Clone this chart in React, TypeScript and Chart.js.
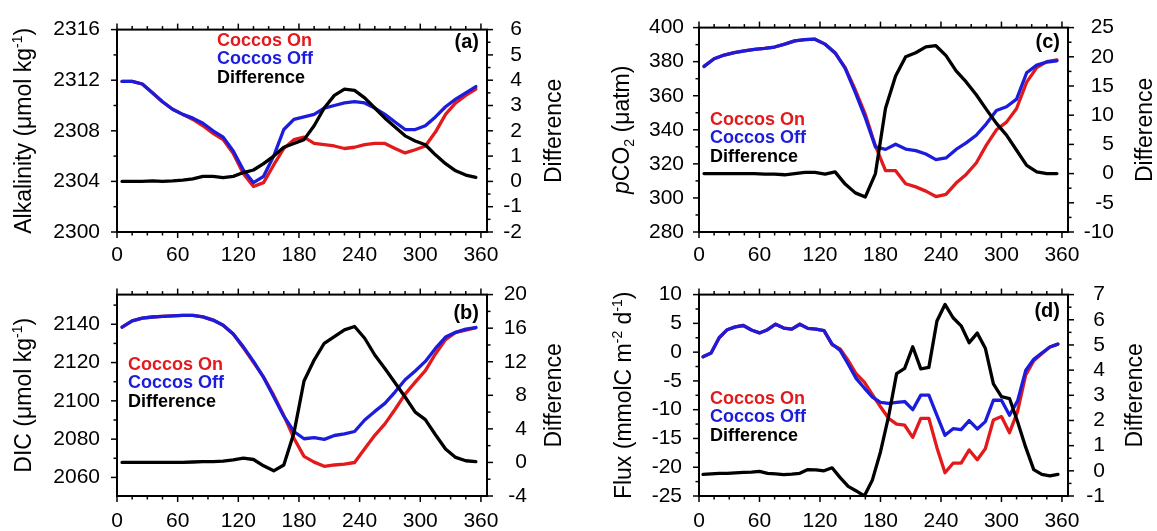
import React, { useEffect, useRef } from "react";
import { Chart, registerables } from "chart.js";

Chart.register(...registerables);

const FONT = "'Liberation Sans', Arial, Helvetica, sans-serif";
const RED = "#e31a1c";
const BLUE = "#1c1cdc";
const BLACK = "#000000";

// ---------- data ----------
const days10 = [5, 15, 25, 35, 45, 55, 65, 75, 85, 95, 105, 115, 125, 135, 145, 155, 165, 175, 185, 195, 205, 215, 225, 235, 245, 255, 265, 275, 285, 295, 305, 315, 325, 335, 345, 355];
const daysFlux = [4, 12, 20, 28, 36, 44, 52, 60, 68, 76, 84, 92, 100, 108, 116, 124, 132, 140, 148, 156, 164, 172, 180, 188, 196, 204, 212, 220, 228, 236, 244, 252, 260, 268, 276, 284, 292, 300, 308, 316, 324, 332, 340, 348, 356];

const xTickVals = [0, 60, 120, 180, 240, 300, 360];

const alkOn = [2311.9, 2311.9, 2311.7, 2311.0, 2310.3, 2309.7, 2309.3, 2308.9, 2308.4, 2307.8, 2307.3, 2306.2, 2304.6, 2303.6, 2303.9, 2305.3, 2306.6, 2307.3, 2307.5, 2307.0, 2306.9, 2306.8, 2306.6, 2306.7, 2306.9, 2307.0, 2307.0, 2306.6, 2306.25, 2306.5, 2306.8, 2307.9, 2309.3, 2310.2, 2310.8, 2311.3];
const alkOff = [2311.9, 2311.9, 2311.7, 2311.0, 2310.3, 2309.7, 2309.3, 2309.0, 2308.6, 2308.0, 2307.5, 2306.4, 2304.9, 2303.9, 2304.4, 2306.0, 2308.1, 2308.9, 2309.1, 2309.3, 2309.8, 2310.0, 2310.2, 2310.3, 2310.2, 2309.8, 2309.3, 2308.7, 2308.1, 2308.1, 2308.4, 2309.1, 2309.9, 2310.5, 2311.0, 2311.5];
const alkDiff = [0, 0, 0, 0.02, 0, 0.02, 0.05, 0.1, 0.2, 0.2, 0.15, 0.2, 0.35, 0.45, 0.7, 1.0, 1.35, 1.5, 1.65, 2.2, 2.9, 3.4, 3.65, 3.6, 3.3, 2.9, 2.5, 2.15, 1.8, 1.6, 1.45, 1.05, 0.7, 0.42, 0.25, 0.16];
const alkTicks = [2300, 2304, 2308, 2312, 2316];
const alkDiffTicks = [-2, -1, 0, 1, 2, 3, 4, 5, 6];

const dicOn = [2138.5, 2141.8, 2143.2, 2143.8, 2144.1, 2144.4, 2144.6, 2144.6, 2143.9, 2142.2, 2139.5, 2134.9, 2127.7, 2120.2, 2112.4, 2103.0, 2092.3, 2080.5, 2071.0, 2068.0, 2065.8, 2066.5, 2067.0, 2067.8, 2075.0, 2082.0, 2088.0, 2095.5, 2103.5, 2109.8, 2115.8, 2124.5, 2132.0, 2135.8, 2137.0, 2138.3];
const dicOff = [2138.5, 2141.8, 2143.2, 2143.8, 2144.1, 2144.4, 2144.6, 2144.6, 2143.9, 2142.2, 2139.5, 2134.9, 2128.2, 2120.6, 2112.2, 2102.1, 2092.0, 2084.0, 2080.2, 2080.8, 2079.9, 2081.9, 2082.7, 2084.0, 2090.0, 2094.5, 2098.7, 2104.6, 2111.0, 2115.6, 2120.6, 2127.4, 2133.3, 2135.8, 2137.5, 2138.3];
const dicDiff = [0, 0, 0, 0, 0, 0, 0, 0.05, 0.1, 0.1, 0.15, 0.3, 0.5, 0.35, -0.4, -1.0, -0.3, 3.5, 9.7, 12.2, 14.2, 15.0, 15.8, 16.2, 14.8, 12.8, 11.2, 9.5, 7.8, 6.0, 5.1, 3.3, 1.6, 0.6, 0.2, 0.1];
const dicTicks = [2060, 2080, 2100, 2120, 2140];
const dicDiffTicks = [-4, 0, 4, 8, 12, 16, 20];

const co2On = [377.2, 381.7, 383.9, 385.3, 386.4, 387.2, 387.8, 388.6, 390.3, 392.2, 392.9, 393.2, 390.3, 385.0, 376.5, 363.5, 349.0, 330.5, 316.0, 316.0, 308.3, 306.5, 304.0, 300.8, 302.1, 308.7, 313.8, 320.5, 331.0, 340.0, 344.5, 352.5, 368.0, 376.5, 380.0, 381.0];
const co2Off = [377.2, 381.7, 383.9, 385.3, 386.4, 387.2, 387.8, 388.6, 390.3, 392.2, 392.9, 393.2, 390.3, 385.3, 376.0, 362.0, 347.0, 330.0, 328.5, 331.5, 328.7, 327.8, 325.8, 322.5, 323.5, 328.5, 332.3, 336.8, 343.5, 351.3, 353.5, 358.0, 373.5, 378.0, 379.8, 380.5];
const co2Diff = [0, 0, 0, 0, 0, 0, -0.1, -0.1, -0.2, 0, 0.2, 0.2, -0.1, 0.3, -1.8, -3.3, -4.0, 0, 11.2, 16.7, 20.0, 20.7, 21.7, 21.9, 20.2, 17.6, 15.7, 13.5, 11.0, 8.6, 6.6, 4.0, 1.4, 0.3, 0, 0];
const co2Ticks = [280, 300, 320, 340, 360, 380, 400];
const co2DiffTicks = [-10, -5, 0, 5, 10, 15, 20, 25];

const fluxOn = [-0.82, -0.15, 2.5, 3.9, 4.4, 4.63, 3.85, 3.34, 3.9, 4.85, 4.18, 4.0, 4.85, 4.13, 4.0, 3.74, 1.3, 0.57, -1.45, -3.8, -5.2, -7.4, -9.5, -11.5, -12.5, -12.7, -14.8, -11.5, -11.5, -16.6, -20.95, -19.3, -19.3, -17.0, -18.7, -16.8, -11.8, -11.2, -14.0, -10.3, -4.0, -1.5, -0.3, 0.9, 1.4];
const fluxOff = [-0.82, -0.15, 2.5, 3.9, 4.4, 4.63, 3.85, 3.34, 3.9, 4.85, 4.18, 4.0, 4.85, 4.13, 4.0, 3.74, 1.41, 0.3, -2.1, -4.6, -6.24, -7.8, -8.74, -8.9, -8.74, -8.58, -10.0, -7.47, -7.47, -10.97, -14.46, -13.3, -13.46, -11.9, -13.35, -12.07, -8.36, -8.36, -10.97, -8.47, -3.2, -1.25, -0.15, 0.9, 1.4];
const fluxDiff = [-0.14, -0.12, -0.1, -0.1, -0.08, -0.06, -0.05, -0.02, -0.1, -0.12, -0.15, -0.13, -0.1, 0.05, 0.04, 0.0, 0.12, -0.27, -0.62, -0.8, -1.0, -0.36, 0.75, 2.15, 3.86, 4.07, 4.93, 4.05, 4.11, 5.95, 6.61, 6.08, 5.76, 5.09, 5.47, 4.87, 3.45, 2.95, 2.87, 1.95, 0.94, 0.05, -0.14, -0.2, -0.14];
const fluxTicks = [-25, -20, -15, -10, -5, 0, 5, 10];
const fluxDiffTicks = [-1, 0, 1, 2, 3, 4, 5, 6, 7];

const seriesNames = ["Coccos On", "Coccos Off", "Difference"];

// ---------- layout / style ----------
type Seg = { t: string; s?: "i" | "sup" | "sub" };
type Axis = { min: number; max: number; ticks: number[]; minor: number; pad: number };
type PanelCfg = {
  key: string;
  left: number; top: number; w: number; h: number;
  area: { L: number; R: number; T: number; B: number };
  days: number[]; on: number[]; off: number[]; diff: number[];
  yL: Axis; yR: Axis;
  xPad: number;
  title: Seg[]; titleX: number; rTitleX: number;
  legX: number; legY: number;
  label: string; labelX: number; labelY: number;
};

const X_MIN = 0;
const X_MAX = 366;
const X_MINOR = 15;
const MAJOR_LEN = 6;
const MINOR_LEN = 3.5;

// for the right axis, "pad" is the x of the labels' right edge (right-justified)
const panels: PanelCfg[] = [
  {
    key: "a", left: 0, top: 0, w: 578, h: 265,
    area: { L: 117, R: 487, T: 21, B: 232 },
    days: days10, on: alkOn, off: alkOff, diff: alkDiff,
    yL: { min: 2300, max: 2316, ticks: alkTicks, minor: 2, pad: 17 },
    yR: { min: -2, max: 6, ticks: alkDiffTicks, minor: 0.5, pad: 522 },
    xPad: 11,
    title: [{ t: "Alkalinity (\u03bcmol kg" }, { t: "-1", s: "sup" }, { t: ")" }],
    titleX: 23, rTitleX: 553,
    legX: 217, legY: 41,
    label: "(a)", labelX: 479, labelY: 42.5,
  },
  {
    key: "b", left: 0, top: 265, w: 578, h: 266,
    area: { L: 117, R: 487, T: 21, B: 231 },
    days: days10, on: dicOn, off: dicOff, diff: dicDiff,
    yL: { min: 2050.3, max: 2155.5, ticks: dicTicks, minor: 10, pad: 17 },
    yR: { min: -4, max: 20, ticks: dicDiffTicks, minor: 2, pad: 527 },
    xPad: 13,
    title: [{ t: "DIC (\u03bcmol kg" }, { t: "-1", s: "sup" }, { t: ")" }],
    titleX: 23, rTitleX: 553,
    legX: 128, legY: 100,
    label: "(b)", labelX: 479, labelY: 48,
  },
  {
    key: "c", left: 578, top: 0, w: 579, h: 265,
    area: { L: 121, R: 490, T: 21, B: 232 },
    days: days10, on: co2On, off: co2Off, diff: co2Diff,
    yL: { min: 280, max: 400, ticks: co2Ticks, minor: 10, pad: 15 },
    yR: { min: -10, max: 25, ticks: co2DiffTicks, minor: 2.5, pad: 536 },
    xPad: 11,
    title: [{ t: "p", s: "i" }, { t: "CO" }, { t: "2", s: "sub" }, { t: " (\u03bcatm)" }],
    titleX: 43, rTitleX: 566,
    legX: 132, legY: 120,
    label: "(c)", labelX: 482, labelY: 42.5,
  },
  {
    key: "d", left: 578, top: 265, w: 579, h: 266,
    area: { L: 121, R: 490, T: 21, B: 231 },
    days: daysFlux, on: fluxOn, off: fluxOff, diff: fluxDiff,
    yL: { min: -25, max: 10, ticks: fluxTicks, minor: 2.5, pad: 17 },
    yR: { min: -1, max: 7, ticks: fluxDiffTicks, minor: 0.5, pad: 527 },
    xPad: 13,
    title: [{ t: "Flux (mmolC m" }, { t: "-2", s: "sup" }, { t: " d" }, { t: "-1", s: "sup" }, { t: ")" }],
    titleX: 45, rTitleX: 556,
    legX: 132, legY: 134,
    label: "(d)", labelX: 482, labelY: 46,
  },
];

const TICK_FONT = 21;
const TITLE_FONT = 23;
const LEGEND_FONT = 18;
const LABEL_FONT = 20;
const LEG_SPACING = 18.5;
const LINE_W = 3.3;

function drawRich(ctx: CanvasRenderingContext2D, segs: Seg[], cx: number, cy: number, size: number) {
  ctx.save();
  ctx.translate(cx, cy);
  ctx.rotate(-Math.PI / 2);
  const fontFor = (s: Seg) => {
    const small = s.s === "sup" || s.s === "sub";
    const sz = small ? Math.round(size * 0.62) : size;
    return `${s.s === "i" ? "italic " : ""}${sz}px ${FONT}`;
  };
  let total = 0;
  const widths = segs.map((sg) => {
    ctx.font = fontFor(sg);
    const w = ctx.measureText(sg.t).width;
    total += w;
    return w;
  });
  let x = -total / 2;
  ctx.textAlign = "left";
  ctx.textBaseline = "alphabetic";
  ctx.fillStyle = "#000";
  const base = size * 0.36;
  segs.forEach((sg, i) => {
    ctx.font = fontFor(sg);
    const dy = sg.s === "sup" ? -size * 0.42 : sg.s === "sub" ? size * 0.22 : 0;
    ctx.fillText(sg.t, x, base + dy);
    x += widths[i];
  });
  ctx.restore();
}

function makeDecor(p: PanelCfg) {
  return {
    id: "decor" + p.key,
    afterDatasetsDraw(chart: any) {
      const { ctx, chartArea: a, scales } = chart;
      const sx = scales.x, sl = scales.yL, sr = scales.yR;
      ctx.save();
      ctx.strokeStyle = "#000";
      ctx.lineWidth = 1.5;
      const seg = (x1: number, y1: number, x2: number, y2: number) => {
        ctx.beginPath();
        ctx.moveTo(x1, y1);
        ctx.lineTo(x2, y2);
        ctx.stroke();
      };
      const each = (min: number, max: number, step: number, majors: number[], fn: (v: number, len: number) => void) => {
        const n0 = Math.ceil(min / step - 1e-6);
        const n1 = Math.floor(max / step + 1e-6);
        for (let n = n0; n <= n1; n++) {
          const v = n * step;
          const major = majors.some((m) => Math.abs(m - v) < step * 1e-3);
          fn(v, major ? MAJOR_LEN : MINOR_LEN);
        }
      };
      each(X_MIN, X_MAX, X_MINOR, xTickVals, (v, len) => {
        const px = sx.getPixelForValue(v);
        seg(px, a.bottom, px, a.bottom + len);
        seg(px, a.top, px, a.top - len);
      });
      each(p.yL.min, p.yL.max, p.yL.minor, p.yL.ticks, (v, len) => {
        const py = sl.getPixelForValue(v);
        seg(a.left, py, a.left - len, py);
      });
      each(p.yR.min, p.yR.max, p.yR.minor, p.yR.ticks, (v, len) => {
        const py = sr.getPixelForValue(v);
        seg(a.right, py, a.right + len, py);
      });
      ctx.lineWidth = 2;
      ctx.strokeRect(a.left, a.top, a.right - a.left, a.bottom - a.top);

      // right-axis tick labels (right-justified)
      ctx.font = `${TICK_FONT}px ${FONT}`;
      ctx.textAlign = "right";
      ctx.textBaseline = "middle";
      ctx.fillStyle = "#000";
      p.yR.ticks.forEach((v) => {
        ctx.fillText(String(v), p.yR.pad, sr.getPixelForValue(v));
      });

      const cy = (a.top + a.bottom) / 2;
      drawRich(ctx, p.title, p.titleX, cy, TITLE_FONT);
      drawRich(ctx, [{ t: "Difference" }], p.rTitleX, cy, TITLE_FONT);

      ctx.font = `bold ${LEGEND_FONT}px ${FONT}`;
      ctx.textAlign = "left";
      ctx.textBaseline = "middle";
      const cols = [RED, BLUE, BLACK];
      seriesNames.forEach((n, i) => {
        ctx.fillStyle = cols[i];
        ctx.fillText(n, p.legX, p.legY + i * LEG_SPACING);
      });

      ctx.font = `bold ${LABEL_FONT}px ${FONT}`;
      ctx.textAlign = "right";
      ctx.fillStyle = "#000";
      ctx.fillText(p.label, p.labelX, p.labelY);
      ctx.restore();
    },
  };
}

function yAxis(ax: Axis, position: "left" | "right", width: number) {
  return {
    type: "linear" as const,
    position,
    min: ax.min,
    max: ax.max,
    grid: { display: false, drawTicks: false },
    border: { display: false },
    afterBuildTicks: (s: any) => {
      s.ticks = ax.ticks.map((v) => ({ value: v }));
    },
    afterFit: (s: any) => {
      s.width = width;
    },
    ticks: {
      display: position === "left",
      color: "#000",
      font: { family: FONT, size: TICK_FONT },
      padding: position === "left" ? ax.pad : 0,
      autoSkip: false,
      callback: (v: any) => String(v),
    },
  };
}

function buildConfig(p: PanelCfg): any {
  const pts = (vals: number[]) => p.days.map((d, i) => ({ x: d, y: vals[i] }));
  const line = (label: string, vals: number[], color: string, axis: string, order: number) => ({
    label,
    data: pts(vals),
    borderColor: color,
    backgroundColor: color,
    borderWidth: LINE_W,
    pointRadius: 0,
    tension: 0,
    borderJoinStyle: "round",
    borderCapStyle: "round",
    yAxisID: axis,
    order,
  });
  return {
    type: "line",
    data: {
      datasets: [
        line(seriesNames[0], p.on, RED, "yL", 3),
        line(seriesNames[1], p.off, BLUE, "yL", 2),
        line(seriesNames[2], p.diff, BLACK, "yR", 1),
      ],
    },
    options: {
      responsive: false,
      animation: false,
      devicePixelRatio: 1,
      layout: { padding: { top: p.area.T, left: 0, right: 0, bottom: 0 } },
      plugins: { legend: { display: false }, tooltip: { enabled: false }, title: { display: false } },
      scales: {
        x: {
          type: "linear",
          position: "bottom",
          min: X_MIN,
          max: X_MAX,
          grid: { display: false, drawTicks: false },
          border: { display: false },
          afterBuildTicks: (s: any) => {
            s.ticks = xTickVals.map((v) => ({ value: v }));
          },
          afterFit: (s: any) => {
            s.height = p.h - p.area.B;
          },
          ticks: {
            color: "#000",
            font: { family: FONT, size: TICK_FONT },
            padding: p.xPad,
            maxRotation: 0,
            autoSkip: false,
            callback: (v: any) => String(v),
          },
        },
        yL: yAxis(p.yL, "left", p.area.L),
        yR: yAxis(p.yR, "right", p.w - p.area.R),
      },
    },
    plugins: [makeDecor(p)],
  };
}

function Panel({ cfg }: { cfg: PanelCfg }) {
  const ref = useRef<HTMLCanvasElement>(null);
  useEffect(() => {
    if (!ref.current) return;
    const chart = new Chart(ref.current, buildConfig(cfg));
    return () => chart.destroy();
  }, [cfg]);
  return (
    <canvas
      ref={ref}
      width={cfg.w}
      height={cfg.h}
      style={{ position: "absolute", left: cfg.left, top: cfg.top, width: cfg.w, height: cfg.h }}
    />
  );
}

export default function App() {
  return (
    <div style={{ position: "absolute", left: 0, top: 0, width: 1157, height: 531, background: "#fff", overflow: "hidden" }}>
      {panels.map((p) => (
        <Panel key={p.key} cfg={p} />
      ))}
    </div>
  );
}
